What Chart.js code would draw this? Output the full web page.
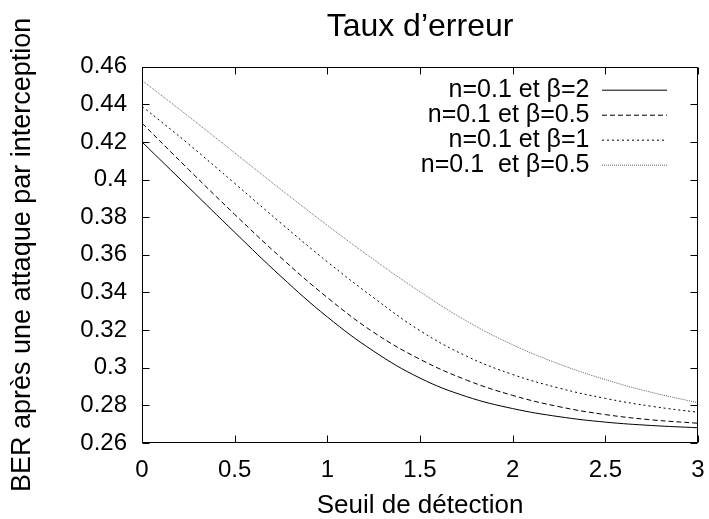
<!DOCTYPE html>
<html>
<head>
<meta charset="utf-8">
<script src="https://cdn.jsdelivr.net/npm/chart.js@4/dist/chart.umd.min.js"></script>
<style>
  html, body { margin: 0; padding: 0; background: #fff; }
  #wrap { width: 709px; height: 519px; }
</style>
</head>
<body>
<div id="wrap"><canvas id="c" width="709" height="519"></canvas></div>
<script>
const chartTitle = "Taux d\u2019erreur";
const xAxisTitle = "Seuil de détection";
const yAxisTitle = "BER après une attaque par interception";

const xValues = [0, 0.25, 0.5, 0.75, 1, 1.25, 1.5, 1.75, 2, 2.25, 2.5, 2.75, 3];
const seriesLabels = ["n=0.1 et \u03b2=2", "n=0.1 et \u03b2=0.5", "n=0.1 et \u03b2=1", "n=0.1  et \u03b2=0.5"];
const berBeta2   = [0.420, 0.396, 0.372, 0.3485, 0.327, 0.3088, 0.2945, 0.2847, 0.2783, 0.2740, 0.2711, 0.2693, 0.2681];
const berBeta05a = [0.430, 0.4055, 0.3815, 0.3585, 0.3373, 0.3188, 0.3045, 0.2935, 0.2853, 0.2793, 0.2751, 0.2723, 0.2705];
const berBeta1   = [0.439, 0.419, 0.398, 0.3768, 0.3563, 0.3372, 0.3197, 0.3062, 0.2964, 0.2892, 0.2837, 0.2795, 0.2763];
const berBeta05b = [0.4527, 0.4337, 0.4142, 0.3947, 0.3757, 0.3575, 0.3404, 0.3249, 0.3122, 0.3020, 0.2937, 0.2869, 0.2814];

const xTickLabels = ["0", "0.5", "1", "1.5", "2", "2.5", "3"];
const yTickLabels = ["0.26", "0.28", "0.3", "0.32", "0.34", "0.36", "0.38", "0.4", "0.42", "0.44", "0.46"];

const FONT = "'Liberation Sans', Arial, Helvetica, sans-serif";

function pts(vals) { return xValues.map((x, i) => ({ x: x, y: vals[i] })); }

const styles = [
  { color: '#000', dash: [] },
  { color: '#000', dash: [5, 3] },
  { color: '#000', dash: [2, 3] },
  { color: '#666', dash: [1, 1] }
];
const seriesData = [berBeta2, berBeta05a, berBeta1, berBeta05b];

const datasets = seriesData.map((vals, i) => ({
  label: seriesLabels[i],
  data: pts(vals),
  borderColor: styles[i].color,
  backgroundColor: styles[i].color,
  borderDash: styles[i].dash,
  borderWidth: 1,
  pointRadius: 0,
  fill: false,
  tension: 0.4
}));

const framePlugin = {
  id: 'frame',
  afterLayout(chart) {
    const l = chart.legend, a = chart.chartArea;
    if (!l) return;
    l.left = a.left; l.top = a.top; l.right = a.right - 31; l.bottom = a.bottom;
    l.width = l.right - l.left; l.height = l.bottom - l.top;
  },
  afterDraw(chart) {
    const { ctx, chartArea: a, scales } = chart;
    const xs = scales.x, ys = scales.y;
    const L = Math.round(a.left) + 0.5, R = Math.round(a.right) - 0.5;
    const T = Math.round(a.top) + 0.5, B = Math.round(a.bottom) - 0.5;
    ctx.save();
    ctx.strokeStyle = '#000';
    ctx.lineWidth = 1;
    ctx.setLineDash([]);
    ctx.beginPath();
    ctx.rect(L, T, R - L, B - T);
    const len = 7;
    xs.ticks.forEach(t => {
      const px = Math.round(xs.getPixelForValue(t.value)) + 0.5;
      ctx.moveTo(px, B); ctx.lineTo(px, B - len);
      ctx.moveTo(px, T); ctx.lineTo(px, T + len);
    });
    ys.ticks.forEach(t => {
      const py = Math.round(ys.getPixelForValue(t.value)) + 0.5;
      ctx.moveTo(L, py); ctx.lineTo(L + len, py);
      ctx.moveTo(R, py); ctx.lineTo(R - len, py);
    });
    ctx.stroke();
    ctx.restore();
  }
};

new Chart(document.getElementById('c'), {
  type: 'line',
  data: { datasets: datasets },
  options: {
    responsive: false,
    animation: false,
    devicePixelRatio: 1,
    layout: { padding: { left: 0, right: 11, top: 0, bottom: 0 } },
    plugins: {
      title: {
        display: true,
        text: chartTitle,
        fullSize: false,
        color: '#000',
        font: { family: FONT, size: 32, weight: 'normal', lineHeight: 1.2 },
        padding: { top: 8, bottom: 20.3 }
      },
      legend: {
        display: true,
        position: 'chartArea',
        align: 'start',
        rtl: true,
        title: { display: true, text: '', font: { size: 11, lineHeight: 1 }, padding: 0 },
        labels: {
          color: '#000',
          font: { family: FONT, size: 25, lineHeight: 1 },
          usePointStyle: true,
          pointStyle: 'line',
          pointStyleWidth: 65,
          padding: 0,
          generateLabels(chart) {
            const items = Chart.defaults.plugins.legend.labels.generateLabels(chart);
            items.forEach(it => {
              const ds = chart.data.datasets[it.datasetIndex];
              it.lineDash = ds.borderDash;
              it.strokeStyle = ds.borderColor;
              it.lineWidth = 1;
              it.pointStyle = 'line';
            });
            return items;
          }
        }
      },
      tooltip: { enabled: false }
    },
    scales: {
      x: {
        type: 'linear',
        min: 0, max: 3,
        grid: { display: false, drawTicks: false },
        border: { display: false },
        ticks: {
          stepSize: 0.5,
          color: '#000',
          padding: 12.6,
          maxRotation: 0,
          font: { family: FONT, size: 24, lineHeight: 1.2 },
          callback: (v, i) => xTickLabels[i]
        },
        title: {
          display: true,
          text: xAxisTitle,
          color: '#000',
          font: { family: FONT, size: 26, lineHeight: 1 },
          padding: { top: 0, bottom: 0 }
        },
        afterFit: (s) => { s.height = 76; s.paddingLeft = 0; s.paddingRight = 0; }
      },
      y: {
        type: 'linear',
        min: 0.26, max: 0.46,
        grid: { display: false, drawTicks: false },
        border: { display: false },
        ticks: {
          stepSize: 0.02,
          color: '#000',
          padding: 15,
          font: { family: FONT, size: 24, lineHeight: 1.2 },
          callback: (v, i) => yTickLabels[i]
        },
        title: {
          display: true,
          text: yAxisTitle,
          color: '#000',
          font: { family: FONT, size: 27, lineHeight: 1.2 },
          padding: { top: 6, bottom: 0 }
        },
        afterFit: (s) => { s.width = 142; s.paddingTop = 0; s.paddingBottom = 0; }
      }
    }
  },
  plugins: [framePlugin]
});
</script>
</body>
</html>
